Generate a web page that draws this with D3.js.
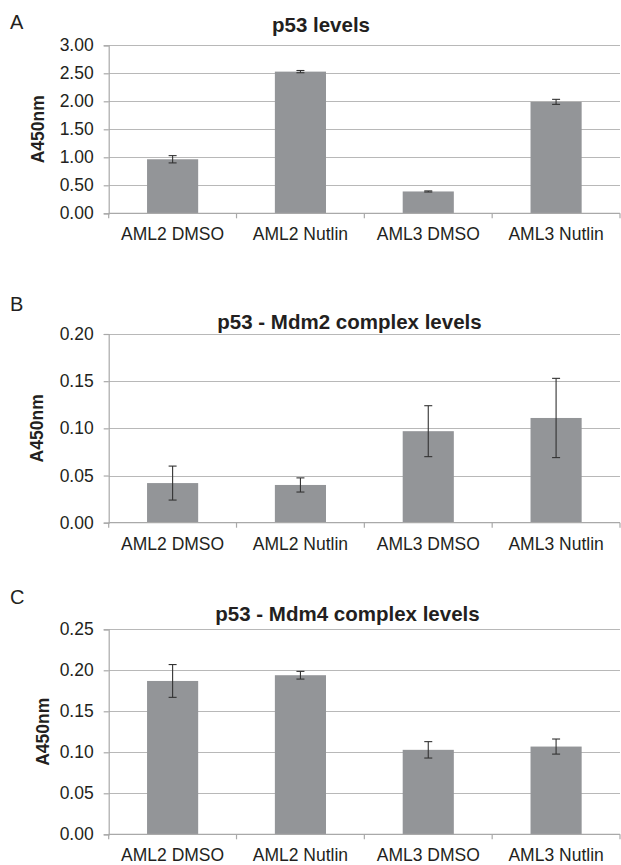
<!DOCTYPE html>
<html>
<head>
<meta charset="utf-8">
<script src="https://cdn.jsdelivr.net/npm/d3@7"></script>
<style>
  body { margin: 0; background: #fff; }
  svg { display: block; font-family: "Liberation Sans", Arial, sans-serif; }
</style>
</head>
<body>
<div id="chart"></div>
<script>
const categories = ['AML2 DMSO', 'AML2 Nutlin', 'AML3 DMSO', 'AML3 Nutlin'];

const p53Levels = [0.965, 2.53, 0.39, 1.99];
const p53LevelsErr = [0.065, 0.02, 0.01, 0.045];
const p53Ticks = [0, 0.5, 1.0, 1.5, 2.0, 2.5, 3.0];

const mdm2Levels = [0.042, 0.040, 0.097, 0.111];
const mdm2LevelsErr = [0.018, 0.0075, 0.027, 0.042];
const mdm2Ticks = [0, 0.05, 0.10, 0.15, 0.20];

const mdm4Levels = [0.187, 0.194, 0.103, 0.107];
const mdm4LevelsErr = [0.020, 0.0047, 0.010, 0.0092];
const mdm4Ticks = [0, 0.05, 0.10, 0.15, 0.20, 0.25];

const panels = [
  { letter: 'A', title: 'p53 levels', values: p53Levels, errors: p53LevelsErr, ticks: p53Ticks,
    top: 45.3, bottom: 213.3, titleX: 321, titleY: 31.7, letterY: 29, yTitleX: 38.3 },
  { letter: 'B', title: 'p53 - Mdm2 complex levels', values: mdm2Levels, errors: mdm2LevelsErr, ticks: mdm2Ticks,
    top: 334, bottom: 522.7, titleX: 349.5, titleY: 329.3, letterY: 311, yTitleX: 36.5 },
  { letter: 'C', title: 'p53 - Mdm4 complex levels', values: mdm4Levels, errors: mdm4LevelsErr, ticks: mdm4Ticks,
    top: 629.3, bottom: 834.3, titleX: 347.5, titleY: 620.5, letterY: 604, yTitleX: 43 }
];

const width = 621;
const height = 865;
const left = 108.7;
const right = 620;
const textColor = '#231f20';
const gridColor = '#b8b8b8';
const axisColor = '#a9a9a9';
const barColor = '#939598';

const svg = d3.select('#chart')
  .append('svg')
  .attr('width', width)
  .attr('height', height);

const x = d3.scaleBand()
  .domain(categories)
  .range([left, right])
  .paddingInner(0.6)
  .paddingOuter(0.3);

panels.forEach(p => {
  const g = svg.append('g');

  const y = d3.scaleLinear()
    .domain([0, d3.max(p.ticks)])
    .range([p.bottom, p.top]);

  // gridlines
  g.append('g')
    .selectAll('line')
    .data(p.ticks.filter(t => t > 0))
    .join('line')
    .attr('x1', left)
    .attr('x2', right)
    .attr('y1', d => Math.round(y(d)) + 0.5)
    .attr('y2', d => Math.round(y(d)) + 0.5)
    .attr('stroke', gridColor)
    .attr('stroke-width', 1.2);

  // y axis
  const yAxis = g.append('g')
    .attr('transform', `translate(${left},0)`)
    .call(d3.axisLeft(y).tickValues(p.ticks).tickFormat(d3.format('.2f')).tickSize(5).tickPadding(10));
  yAxis.select('.domain').attr('stroke', axisColor).attr('stroke-width', 1.2);
  yAxis.selectAll('.tick line').attr('stroke', axisColor).attr('stroke-width', 1.2);
  yAxis.selectAll('.tick text')
    .attr('fill', textColor)
    .attr('font-size', 17.5)
    .attr('font-family', '"Liberation Sans", Arial, sans-serif');

  // bars
  g.append('g')
    .selectAll('rect')
    .data(categories)
    .join('rect')
    .attr('x', d => x(d))
    .attr('y', (d, i) => y(p.values[i]))
    .attr('width', x.bandwidth())
    .attr('height', (d, i) => y(0) - y(p.values[i]))
    .attr('fill', barColor);

  // error bars
  const eb = g.append('g')
    .selectAll('g')
    .data(categories)
    .join('g')
    .attr('stroke', '#333')
    .attr('stroke-width', 1.1);
  eb.append('line')
    .attr('x1', d => x(d) + x.bandwidth() / 2)
    .attr('x2', d => x(d) + x.bandwidth() / 2)
    .attr('y1', (d, i) => y(p.values[i] + p.errors[i]))
    .attr('y2', (d, i) => y(p.values[i] - p.errors[i]));
  [1, -1].forEach(s => {
    eb.append('line')
      .attr('x1', d => x(d) + x.bandwidth() / 2 - 4)
      .attr('x2', d => x(d) + x.bandwidth() / 2 + 4)
      .attr('y1', (d, i) => y(p.values[i] + s * p.errors[i]))
      .attr('y2', (d, i) => y(p.values[i] + s * p.errors[i]));
  });

  // x axis line with ticks at category boundaries
  g.append('line')
    .attr('x1', left)
    .attr('x2', right)
    .attr('y1', y(0))
    .attr('y2', y(0))
    .attr('stroke', axisColor)
    .attr('stroke-width', 1.2);
  g.append('g')
    .selectAll('line')
    .data(d3.range(categories.length + 1))
    .join('line')
    .attr('x1', i => left + i * x.step())
    .attr('x2', i => left + i * x.step())
    .attr('y1', y(0))
    .attr('y2', y(0) + 5)
    .attr('stroke', axisColor)
    .attr('stroke-width', 1.2);

  const xAxis = g.append('g')
    .attr('transform', `translate(0,${y(0)})`)
    .call(d3.axisBottom(x).tickSize(0).tickPadding(14.5));
  xAxis.select('.domain').remove();
  xAxis.selectAll('.tick text')
    .attr('fill', textColor)
    .attr('font-size', 17.5)
    .attr('font-family', '"Liberation Sans", Arial, sans-serif');

  // titles
  g.append('text')
    .attr('x', p.titleX)
    .attr('y', p.titleY)
    .attr('text-anchor', 'middle')
    .attr('font-size', 20.5)
    .attr('font-weight', 'bold')
    .attr('fill', textColor)
    .text(p.title);

  g.append('text')
    .attr('x', 10)
    .attr('y', p.letterY)
    .attr('font-size', 20)
    .attr('fill', textColor)
    .text(p.letter);

  g.append('text')
    .attr('transform', `translate(${p.yTitleX},${(p.top + p.bottom) / 2}) rotate(-90)`)
    .attr('dy', '0.35em')
    .attr('text-anchor', 'middle')
    .attr('font-size', 17.5)
    .attr('font-weight', 'bold')
    .attr('fill', textColor)
    .text('A450nm');
});
</script>
</body>
</html>
